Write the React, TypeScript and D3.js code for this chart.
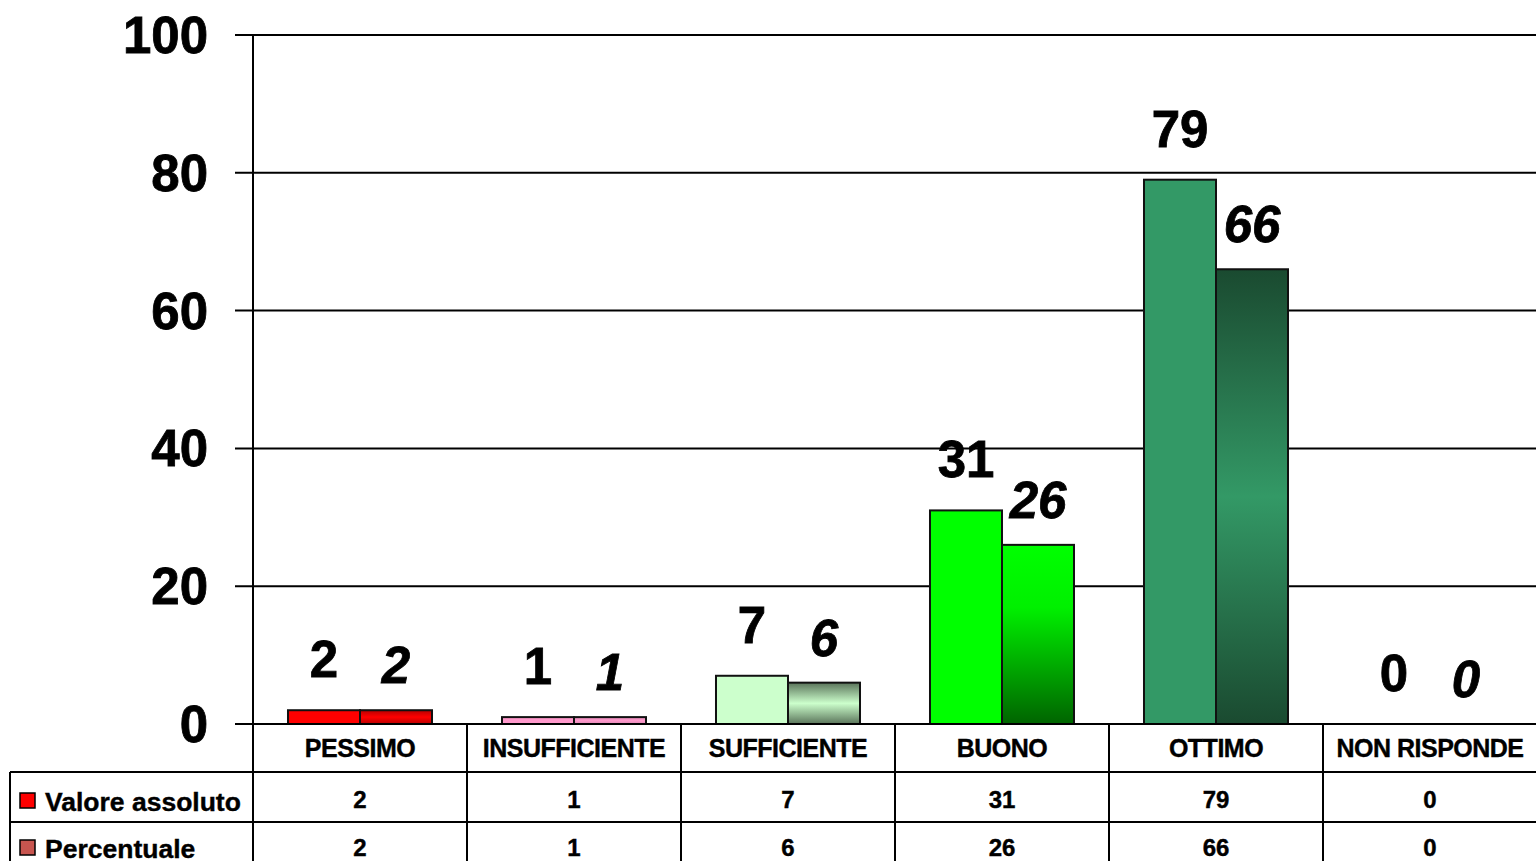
import React from "react";
import * as d3 from "d3";

const categories = ["PESSIMO", "INSUFFICIENTE", "SUFFICIENTE", "BUONO", "OTTIMO", "NON RISPONDE"];
const seriesNames = ["Valore assoluto", "Percentuale"];
const valoreAssoluto = [2, 1, 7, 31, 79, 0];
const percentuale = [2, 1, 6, 26, 66, 0];
const yTicks = [0, 20, 40, 60, 80, 100];

// colori per punto (serie 1) e sfumature (serie 2)
const solidColors = ["#FF0000", "#FF99CC", "#CCFFCC", "#00FF00", "#339966", "#999999"];
const gradientStops: [number, string][][] = [
  [[0, "#B80000"], [0.5, "#FF0000"], [1, "#B80000"]],
  [[0, "#E08AB6"], [0.5, "#FF99CC"], [1, "#E08AB6"]],
  [[0, "#5A745A"], [0.5, "#CCFFCC"], [1, "#5A745A"]],
  [[0, "#00FF00"], [0.35, "#00F000"], [1, "#006400"]],
  [[0, "#1A4A30"], [0.5, "#339966"], [1, "#1A4A30"]],
  [[0, "#999999"], [1, "#999999"]],
];
const legendColors = ["#FF0000", "#C8554F"];

const W = 1536;
const H = 861;
const plot = { left: 253, right: 1537, top: 35, bottom: 724 };
const FONT = "'Liberation Sans', Arial, sans-serif";

export default function App() {
  const x = d3.scaleBand<string>().domain(categories).range([plot.left, plot.right]);
  const inner = d3
    .scaleBand<string>()
    .domain(seriesNames)
    .range([0, x.bandwidth()])
    .paddingOuter(0.486);
  const y = d3.scaleLinear().domain([0, 100]).range([plot.bottom, plot.top]);
  const bw = inner.bandwidth();

  const rowTop = [plot.bottom, 772, 822];
  const seriesData = [valoreAssoluto, percentuale];

  return (
    <svg
      width={W}
      height={H}
      style={{ position: "absolute", left: 0, top: 0, background: "#fff" }}
      fontFamily={FONT}
    >
      <defs>
        {gradientStops.map((stops, i) => (
          <linearGradient key={i} id={`g${i}`} x1="0" y1="0" x2="0" y2="1">
            {stops.map(([o, c], j) => (
              <stop key={j} offset={o} stopColor={c} />
            ))}
          </linearGradient>
        ))}
      </defs>

      {/* griglia e tacche */}
      {yTicks.map((t) => (
        <g key={t}>
          <line x1={235} x2={W} y1={y(t)} y2={y(t)} stroke="#000" strokeWidth={2} />
          <text
            x={208}
            y={y(t) + 18}
            textAnchor="end"
            fontSize={51}
            fontWeight="bold"
            stroke="#000"
            strokeWidth={0.8}
          >
            {t}
          </text>
        </g>
      ))}

      {/* barre */}
      {seriesData.map((vals, s) =>
        vals.map((v, i) =>
          v > 0 ? (
            <rect
              key={`${s}-${i}`}
              x={(x(categories[i]) ?? 0) + (inner(seriesNames[s]) ?? 0)}
              y={y(v)}
              width={bw}
              height={y(0) - y(v)}
              fill={s === 0 ? solidColors[i] : `url(#g${i})`}
              stroke="#111"
              strokeWidth={2}
            />
          ) : null
        )
      )}

      {/* etichette dati */}
      {seriesData.map((vals, s) =>
        vals.map((v, i) => (
          <text
            key={`l${s}-${i}`}
            x={(x(categories[i]) ?? 0) + (inner(seriesNames[s]) ?? 0) + bw / 2}
            y={y(v) - (s === 0 ? 33 : 27)}
            textAnchor="middle"
            fontSize={51}
            fontWeight="bold"
            fontStyle={s === 1 ? "italic" : "normal"}
            stroke="#000"
            strokeWidth={0.8}
          >
            {v}
          </text>
        ))
      )}

      {/* asse */}
      <line x1={plot.left} x2={plot.left} y1={plot.top} y2={H} stroke="#000" strokeWidth={2} />
      <line x1={235} x2={W} y1={plot.bottom} y2={plot.bottom} stroke="#000" strokeWidth={2} />

      {/* tabella dati */}
      {categories.map((c) => (
        <line
          key={c}
          x1={(x(c) ?? 0) + x.bandwidth()}
          x2={(x(c) ?? 0) + x.bandwidth()}
          y1={plot.bottom}
          y2={H}
          stroke="#000"
          strokeWidth={2}
        />
      ))}
      {rowTop.slice(1).map((ry) => (
        <line key={ry} x1={10} x2={W} y1={ry} y2={ry} stroke="#000" strokeWidth={2} />
      ))}
      <line x1={10} x2={10} y1={rowTop[1]} y2={H} stroke="#000" strokeWidth={2} />

      {categories.map((c) => (
        <text
          key={c}
          x={(x(c) ?? 0) + x.bandwidth() / 2}
          y={757}
          textAnchor="middle"
          fontSize={25}
          fontWeight="bold"
          letterSpacing={-0.5}
          stroke="#000"
          strokeWidth={0.4}
        >
          {c}
        </text>
      ))}

      {seriesData.map((vals, s) => (
        <g key={`row${s}`}>
          <rect
            x={20}
            y={s === 0 ? 793 : 840}
            width={15}
            height={15}
            fill={legendColors[s]}
            stroke="#000"
            strokeWidth={1.5}
          />
          <text
            x={45}
            y={s === 0 ? 811 : 858}
            fontSize={26.5}
            fontWeight="bold"
            stroke="#000"
            strokeWidth={0.4}
          >
            {seriesNames[s]}
          </text>
          {vals.map((v, i) => (
            <text
              key={i}
              x={(x(categories[i]) ?? 0) + x.bandwidth() / 2}
              y={s === 0 ? 808 : 856}
              textAnchor="middle"
              fontSize={24}
              fontWeight="bold"
              stroke="#000"
              strokeWidth={0.4}
            >
              {v}
            </text>
          ))}
        </g>
      ))}
    </svg>
  );
}
